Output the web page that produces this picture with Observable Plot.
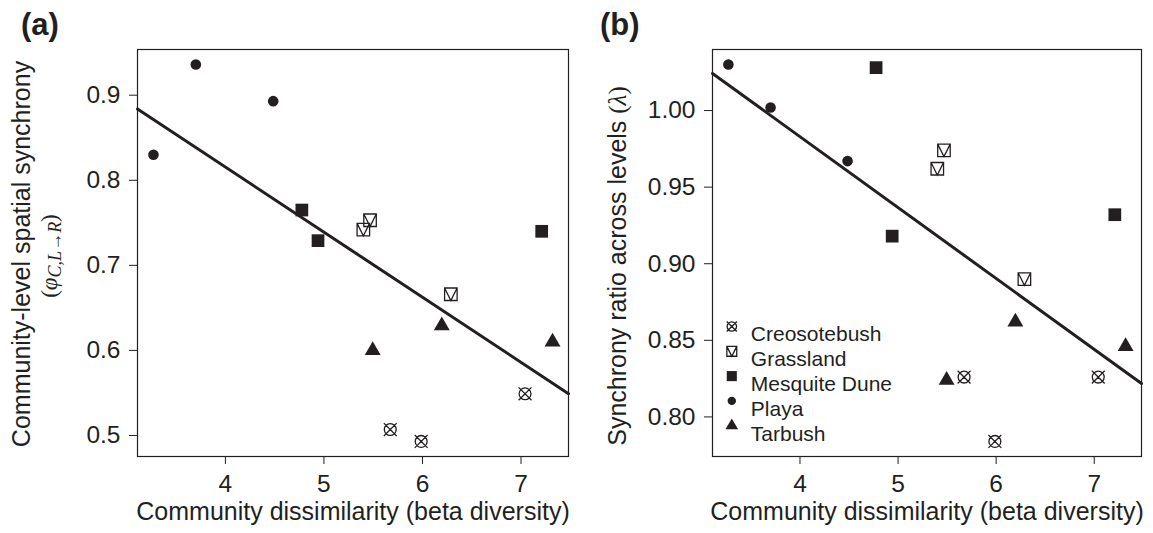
<!DOCTYPE html>
<html>
<head>
<meta charset="utf-8">
<script src="https://cdn.jsdelivr.net/npm/d3@7"></script>
<script src="https://cdn.jsdelivr.net/npm/@observablehq/plot@0.6"></script>
<style>
  html, body { margin: 0; padding: 0; background: #fff; }
  #wrap { position: relative; width: 1153px; height: 533px; overflow: hidden;
          font-family: "Liberation Sans", Arial, sans-serif; color: #231f20; }
  .panel { position: absolute; top: 0; }
  .tag { position: absolute; top: 9px; font-weight: bold; font-size: 31px; line-height: 1; }
  #wrap svg g[aria-label$="tick label"] { font-size: 24.5px; }
</style>
</head>
<body>
<div id="wrap">
  <div id="pa" class="panel" style="left:0px"></div>
  <div id="pb" class="panel" style="left:576px"></div>
  <div class="tag" style="left:21px">(a)</div>
  <div class="tag" style="left:600px">(b)</div>
</div>
<script>
// ---------------- data ----------------
const communities = ["Creosotebush", "Grassland", "Mesquite Dune", "Playa", "Tarbush"];
const siteCommunity = [
  "Creosotebush", "Creosotebush", "Creosotebush",
  "Grassland", "Grassland", "Grassland",
  "Mesquite Dune", "Mesquite Dune", "Mesquite Dune",
  "Playa", "Playa", "Playa",
  "Tarbush", "Tarbush", "Tarbush"
];
const betaDiversity = [5.673, 5.987, 7.041, 5.400, 5.468, 6.288, 4.776, 4.940, 7.210, 3.270, 3.700, 4.485, 5.495, 6.196, 7.320];
const spatialSynchrony = [0.507, 0.493, 0.549, 0.742, 0.753, 0.666, 0.765, 0.729, 0.740, 0.830, 0.936, 0.893, 0.600, 0.629, 0.610];
const synchronyRatio = [0.826, 0.784, 0.826, 0.962, 0.974, 0.890, 1.028, 0.918, 0.932, 1.030, 1.002, 0.967, 0.824, 0.862, 0.846];
const xTicks = [4, 5, 6, 7];
const yTicksA = [0.5, 0.6, 0.7, 0.8, 0.9];
const yTicksB = [0.80, 0.85, 0.90, 0.95, 1.00];
const fitA = [1.1215, -0.0765];   // intercept, slope (panel a)
const fitB = [1.168, -0.04627];   // intercept, slope (panel b)
const xTitle = "Community dissimilarity (beta diversity)";

// ---------------- styling ----------------
const ink = "#231f20";
const symCircleX = {draw(c, s) { const r = Math.sqrt(s / Math.PI) * 1.12; c.moveTo(r, 0); c.arc(0, 0, r, 0, 2 * Math.PI);
  const d = r * 1.08; c.moveTo(-d, -d); c.lineTo(d, d); c.moveTo(-d, d); c.lineTo(d, -d); }};
const symSquareV = {draw(c, s) { const r = Math.sqrt(s / Math.PI) * 1.18; c.moveTo(-r, -r); c.lineTo(r, -r); c.lineTo(r, r); c.lineTo(-r, r); c.closePath();
  c.moveTo(-r, -r); c.lineTo(0, r); c.lineTo(r, -r); }};
const symSquare = {draw(c, s) { const r = Math.sqrt(s / Math.PI) * 1.2; c.moveTo(-r, -r); c.lineTo(r, -r); c.lineTo(r, r); c.lineTo(-r, r); c.closePath(); }};
const symDisc = {draw(c, s) { const r = Math.sqrt(s / Math.PI); c.moveTo(r, 0); c.arc(0, 0, r, 0, 2 * Math.PI); c.closePath(); }};
const symTri = {draw(c, s) { const r = Math.sqrt(s / Math.PI); c.moveTo(0, -1.73 * r); c.lineTo(1.5 * r, 0.87 * r); c.lineTo(-1.5 * r, 0.87 * r); c.closePath(); }};
const styles = {
  "Creosotebush": {symbol: symCircleX, fill: "none", stroke: ink, strokeWidth: 1.3},
  "Grassland": {symbol: symSquareV, fill: "none", stroke: ink, strokeWidth: 1.3},
  "Mesquite Dune": {symbol: symSquare, fill: ink, stroke: "none"},
  "Playa": {symbol: symDisc, fill: ink, stroke: "none"},
  "Tarbush": {symbol: symTri, fill: ink, stroke: "none"}
};

const rows = betaDiversity.map((b, i) => ({
  community: siteCommunity[i], beta: b, phi: spatialSynchrony[i], lambda: synchronyRatio[i]
}));

function padded(values) {
  const [lo, hi] = d3.extent(values);
  const p = (hi - lo) * 0.04;
  return [lo - p, hi + p];
}
const xDomain = padded(betaDiversity);

function panel({yKey, yDomain, yTicks, yFormat, fit, legend, width, marginLeft, marginRight}) {
  const fitPts = xDomain.map(x => ({x, y: fit[0] + fit[1] * x}));
  const marks = [
    Plot.frame({stroke: ink, strokeWidth: 1.2}),
    Plot.axisX(xTicks, {tickSize: 8, tickPadding: 10, fontSize: 24.5, label: null, stroke: ink}),
    Plot.axisY(yTicks, {tickSize: 8, tickPadding: 9, fontSize: 24.5, label: null, tickFormat: d3.format(yFormat), stroke: ink}),
    Plot.line(fitPts, {x: "x", y: "y", stroke: ink, strokeWidth: 3}),
    ...communities.map(c => Plot.dot(rows.filter(d => d.community === c), {x: "beta", y: yKey, r: 5.3, ...styles[c]})),
    Plot.text([xTitle], {frameAnchor: "bottom", dy: 63, fontSize: 25, fill: ink})
  ];
  if (legend) {
    communities.forEach((c, i) => {
      marks.push(Plot.dot([0], {frameAnchor: "top-left", dx: 19.3, dy: 277 + i * 24.8, r: 4.2, ...styles[c]}));
      marks.push(Plot.text([c], {frameAnchor: "top-left", dx: 38.3, dy: 277 + i * 24.8, textAnchor: "start", fontSize: 21, fill: ink}));
    });
  }
  return Plot.plot({
    width, height: 533,
    marginLeft, marginRight, marginTop: 49, marginBottom: 77,
    x: {domain: xDomain, label: null},
    y: {domain: yDomain, label: null},
    style: {fontFamily: '"Liberation Sans", Arial, sans-serif', color: ink, background: "transparent", overflow: "visible"},
    marks
  });
}

const svgA = panel({yKey: "phi", yDomain: padded(spatialSynchrony), yTicks: yTicksA, yFormat: ".1f", fit: fitA,
  legend: false, width: 576, marginLeft: 137, marginRight: 8});
const svgB = panel({yKey: "lambda", yDomain: padded(synchronyRatio), yTicks: yTicksB, yFormat: ".2f", fit: fitB,
  legend: true, width: 577, marginLeft: 136, marginRight: 12});
document.getElementById("pa").appendChild(svgA);
document.getElementById("pb").appendChild(svgB);

// rotated y-axis titles with math parts
function yTitle(svg, x, y, parts, size) {
  const t = d3.select(svg).append("text")
    .attr("transform", `translate(${x},${y}) rotate(-90)`)
    .attr("text-anchor", "middle")
    .attr("fill", ink)
    .style("font-size", size + "px");
  parts.forEach(p => {
    const s = t.append("tspan").text(p.text);
    if (p.serif) s.style("font-family", '"Liberation Serif", "DejaVu Serif", serif');
    if (p.italic) s.style("font-style", "italic");
    if (p.size) s.style("font-size", p.size + "px");
    if (p.dy) s.attr("dy", p.dy);
  });
}
yTitle(svgA, 29.5, 254, [{text: "Community-level spatial synchrony"}], 25);
yTitle(svgA, 57, 256, [
  {text: "(", serif: true},
  {text: "φ", serif: true, italic: true},
  {text: "C,L→R", serif: true, italic: true, size: 18, dy: 4},
  {text: ")", serif: true, dy: -4}
], 23);
yTitle(svgB, 50, 266, [
  {text: "Synchrony ratio across levels "},
  {text: "(", serif: true},
  {text: "λ", serif: true, italic: true},
  {text: ")", serif: true}
], 25);
</script>
</body>
</html>
